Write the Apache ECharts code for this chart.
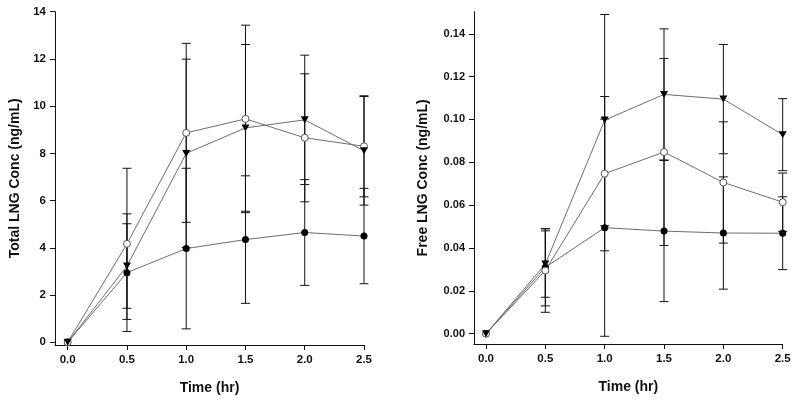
<!DOCTYPE html>
<html><head><meta charset="utf-8">
<script src="https://cdn.jsdelivr.net/npm/echarts@6/dist/echarts.min.js"></script>
<style>html,body{margin:0;padding:0;background:#fff}#c{width:800px;height:404px}</style>
</head><body><div id="c"></div>
<script>
// Time points (hr)
const time = [0, 0.5, 1.0, 1.5, 2.0, 2.5];
const xTickVals = [0, 0.5, 1.0, 1.5, 2.0, 2.5];
const totalTickVals = [0, 2, 4, 6, 8, 10, 12, 14];
const freeTickVals = [0, 0.02, 0.04, 0.06, 0.08, 0.10, 0.12, 0.14];

// Total LNG Conc (ng/mL): mean and SD
const totalFilled    = [0, 2.95, 3.97, 4.35, 4.65, 4.50];
const totalFilledSD  = [0, 2.49, 3.40, 2.70, 2.24, 2.02];
const totalOpen      = [0, 4.17, 8.87, 9.46, 8.66, 8.30];
const totalOpenSD    = [0, 3.20, 3.79, 3.97, 2.71, 2.14];
const totalTri       = [0, 3.23, 8.00, 9.08, 9.42, 8.11];
const totalTriSD     = [0, 1.79, 3.99, 3.53, 2.74, 2.30];

// Free LNG Conc (ng/mL): mean and SD
const freeFilled     = [0, 0.0310, 0.0495, 0.0479, 0.0470, 0.0469];
const freeFilledSD   = [0, 0.0180, 0.0507, 0.0329, 0.0262, 0.0170];
const freeOpen       = [0, 0.0295, 0.0747, 0.0848, 0.0706, 0.0614];
const freeOpenSD     = [0, 0.0195, 0.0360, 0.0436, 0.0283, 0.0136];
const freeTri        = [0, 0.0325, 0.0997, 0.1117, 0.1095, 0.0929];
const freeTriSD      = [0, 0.0155, 0.0493, 0.0306, 0.0255, 0.0168];

const FONT = 'Liberation Sans';
const TXT = '#111';

function axis(gi, min, max, ticks, fmt, fontSize, name, gap) {
  return {
    type: 'value', gridIndex: gi, min: min, max: max,
    axisLine: {show: true, onZero: false, lineStyle: {color: '#111', width: 1}},
    axisTick: {show: true, inside: false, length: 5, customValues: ticks, lineStyle: {color: '#111', width: 1}},
    axisLabel: {margin: 9, customValues: ticks, color: TXT, fontFamily: FONT, fontWeight: 'bold', fontSize: fontSize, formatter: fmt},
    splitLine: {show: false},
    name: name, nameLocation: 'middle', nameGap: gap,
    nameTextStyle: {color: TXT, fontFamily: FONT, fontWeight: 'bold', fontSize: 14}
  };
}
function lineSeries(xi, yi, vals, kind) {
  const base = {
    type: 'line', xAxisIndex: xi, yAxisIndex: yi, z: 5,
    data: time.map((t, i) => [t, vals[i]]),
    showAllSymbol: true,
    lineStyle: {color: '#6e6e6e', width: 1},
    animation: false, silent: true
  };
  if (kind === 'filled') {
    base.symbol = 'circle'; base.symbolSize = 7;
    base.itemStyle = {color: '#000', borderColor: '#000', borderWidth: 0};
  } else if (kind === 'open') {
    base.symbol = 'circle'; base.symbolSize = 7;
    base.itemStyle = {color: '#fff', borderColor: '#555', borderWidth: 1};
  } else {
    base.symbol = 'triangle'; base.symbolSize = [8, 7]; base.symbolRotate = 180;
    base.itemStyle = {color: '#000', borderColor: '#000', borderWidth: 0};
  }
  return base;
}
function errSeries(xi, yi, vals, sds) {
  return {
    type: 'custom', xAxisIndex: xi, yAxisIndex: yi, z: 3, clip: false, silent: true, animation: false,
    data: time.map((t, i) => [t, vals[i], sds[i]]),
    encode: {x: 0, y: 1},
    renderItem: function (params, api) {
      const x = api.value(0), v = api.value(1), s = api.value(2);
      if (!s) return;
      const top = api.coord([x, v + s]), bot = api.coord([x, v - s]);
      const w = 4.5;
      const st = {stroke: '#111', lineWidth: 1};
      return {type: 'group', children: [
        {type: 'line', shape: {x1: top[0], y1: top[1], x2: bot[0], y2: bot[1]}, style: st},
        {type: 'line', shape: {x1: top[0] - w, y1: top[1], x2: top[0] + w, y2: top[1]}, style: st},
        {type: 'line', shape: {x1: bot[0] - w, y1: bot[1], x2: bot[0] + w, y2: bot[1]}, style: st}
      ]};
    }
  };
}

const fmtX = v => v.toFixed(1);
const option = {
  animation: false,
  backgroundColor: '#fff',
  grid: [
    {left: 55, top: 11.7, width: 309, height: 333.3},
    {left: 474, top: 11.7, width: 308.7, height: 332.3}
  ],
  xAxis: [
    axis(0, -0.107, 2.5, xTickVals, fmtX, 11.5, 'Time (hr)', 36),
    axis(1, -0.101, 2.5, xTickVals, fmtX, 11.5, 'Time (hr)', 36)
  ],
  yAxis: [
    axis(0, -0.114, 14, totalTickVals, v => String(Math.round(v)), 11.5, 'Total LNG Conc (ng/mL)', 33),
    axis(1, -0.0048, 0.1503, freeTickVals, v => v.toFixed(2), 11, 'Free LNG Conc (ng/mL)', 44)
  ],
  series: [
    errSeries(0, 0, totalFilled, totalFilledSD),
    errSeries(0, 0, totalOpen, totalOpenSD),
    errSeries(0, 0, totalTri, totalTriSD),
    lineSeries(0, 0, totalFilled, 'filled'),
    lineSeries(0, 0, totalOpen, 'open'),
    lineSeries(0, 0, totalTri, 'tri'),
    errSeries(1, 1, freeFilled, freeFilledSD),
    errSeries(1, 1, freeOpen, freeOpenSD),
    errSeries(1, 1, freeTri, freeTriSD),
    lineSeries(1, 1, freeFilled, 'filled'),
    lineSeries(1, 1, freeOpen, 'open'),
    lineSeries(1, 1, freeTri, 'tri')
  ]
};
const chart = echarts.init(document.getElementById('c'), null, {renderer: 'canvas'});
chart.setOption(option);
</script>
</body></html>
